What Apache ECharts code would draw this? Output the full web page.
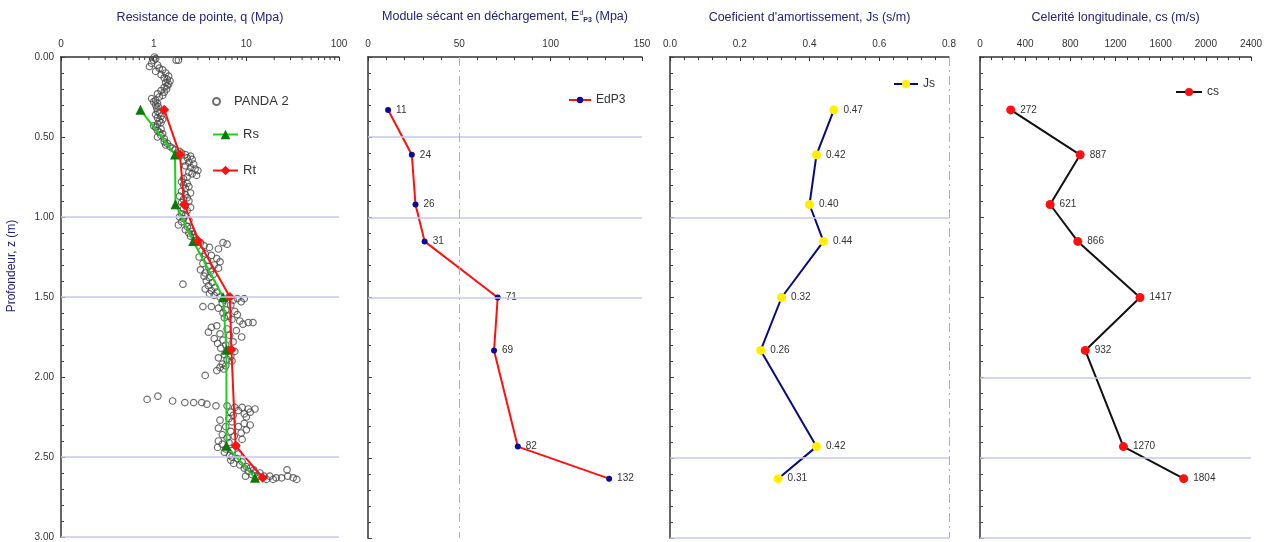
<!DOCTYPE html>
<html>
<head>
<meta charset="utf-8">
<script src="https://cdn.jsdelivr.net/npm/echarts@6/dist/echarts.min.js"></script>
<style>html,body{margin:0;padding:0;background:#fff}#c{width:1272px;height:542px}</style>
</head>
<body>
<div id="c"></div>
<script>
// ---- data ----
const depths = [0.33, 0.61, 0.92, 1.15, 1.50, 1.83, 2.43, 2.63];
const rsValues = [0.72, 1.70, 1.72, 2.67, 5.6, 6.1, 6.1, 12.4];
const rtValues = [1.30, 1.92, 2.14, 3.03, 6.65, 6.9, 7.66, 15.0];
const edp3Values = [11, 24, 26, 31, 71, 69, 82, 132];
const jsValues = [0.47, 0.42, 0.40, 0.44, 0.32, 0.26, 0.42, 0.31];
const csValues = [272, 887, 621, 866, 1417, 932, 1270, 1804];
const pandaQ = [
 1.02,1.05,1.75,1.85,1.0,
 0.95,1.1,0.9,1.15,1.25,1.05,1.35,1.2,1.45,1.3,1.4,1.5,1.35,1.45,1.4,1.3,1.38,
 1.2,1.3,1.1,1.25,1.15,0.95,1.05,1.0,1.1,1.05,1.12,1.08,
 1.1,1.15,1.05,1.2,1.1,1.25,1.15,1.2,1.1,1.0,1.05,1.2,1.1,1.15,1.25,1.2,1.1,1.3,
 1.3,1.4,1.35,1.5,1.6,1.7,1.9,
 2.0,2.2,2.5,2.3,2.6,2.1,2.4,2.7,2.2,2.5,2.8,3.0,2.4,2.6,2.9,2.3,2.1,
 2.0,2.3,2.1,2.4,2.2,2.0,2.5,2.2,1.9,2.3,2.1,2.4,2.0,2.2,2.5,2.1,2.3,
 2.0,2.2,1.9,2.1,2.4,2.0,1.85,2.3,2.5,2.2,2.6,2.4,2.7,2.5,2.8,
 2.9,3.2,5.6,6.2,3.5,4.0,5.0,3.3,
 3.6,4.2,3.1,4.8,3.8,5.2,3.4,4.5,3.9,5.0,3.2,4.1,3.6,4.4,3.5,4.0,2.07,3.7,4.3,3.9,4.6,3.6,4.2,4.8,4.0,4.5,
 5.2,6.5,8.0,9.5,5.8,7.2,8.8,
 3.4,4.2,5.5,6.8,5.0,6.0,7.5,5.6,8.0,6.4,
 5.8,7.0,8.5,10.5,11.8,9.2,4.8,4.2,6.2,7.8,3.9,5.2,6.6,8.9,4.5,5.6,7.2,4.9,6.0,
 5.3,6.5,7.5,5.8,6.8,5.0,6.2,7.0,5.5,6.0,5.2,5.7,4.8,3.6,
 0.85,1.11,1.6,2.17,2.7,3.3,3.75,4.7,
 6.2,7.5,9.0,10.5,12.4,8.2,6.8,11.0,9.5,7.2,10.0,6.5,
 5.2,7.0,9.5,11.0,6.0,8.2,5.0,10.0,6.8,8.8,5.5,7.4,6.2,9.0,
 5.0,6.5,5.5,7.8,4.9,6.0,7.0,5.8,8.2,6.6,
 7.0,8.0,6.8,9.0,7.3,8.5,10.0,9.5,11.0,12.0,27.5,10.5,12.5,14.0,11.5,13.5,15.5,9.8,17.9,21.0,24.0,28.0,32.0,35.0,16.5,19.5
];
const pandaZ = [
 0.00,0.01,0.02,0.02,0.02,
 0.04,0.05,0.06,0.07,0.08,0.09,0.10,0.11,0.12,0.13,0.14,0.15,0.16,0.17,0.18,0.19,0.20,
 0.21,0.22,0.23,0.24,0.25,0.26,0.27,0.28,0.29,0.30,0.31,0.32,
 0.34,0.35,0.36,0.37,0.38,0.39,0.40,0.41,0.42,0.43,0.44,0.45,0.46,0.47,0.48,0.49,0.50,0.51,
 0.53,0.54,0.55,0.56,0.57,0.58,0.59,
 0.60,0.61,0.62,0.63,0.64,0.65,0.66,0.67,0.68,0.69,0.70,0.71,0.72,0.73,0.74,0.75,0.76,
 0.78,0.79,0.80,0.81,0.82,0.84,0.85,0.86,0.87,0.88,0.89,0.90,0.91,0.93,0.94,0.95,0.96,
 0.98,0.99,1.00,1.01,1.02,1.03,1.05,1.06,1.07,1.08,1.09,1.10,1.11,1.12,1.13,
 1.15,1.16,1.16,1.17,1.18,1.19,1.20,1.21,
 1.23,1.24,1.25,1.26,1.27,1.28,1.29,1.30,1.31,1.32,1.33,1.34,1.35,1.36,1.37,1.38,1.42,1.40,1.41,1.43,1.44,1.45,1.46,1.47,1.48,1.49,
 1.50,1.50,1.51,1.51,1.52,1.52,1.53,
 1.56,1.56,1.54,1.55,1.57,1.58,1.59,1.60,1.61,1.62,
 1.63,1.64,1.65,1.66,1.66,1.67,1.68,1.69,1.70,1.71,1.72,1.73,1.74,1.75,1.76,1.77,1.78,1.79,1.80,
 1.82,1.83,1.84,1.86,1.87,1.88,1.89,1.90,1.92,1.93,1.94,1.95,1.96,1.99,
 2.14,2.12,2.15,2.16,2.16,2.16,2.17,2.18,
 2.18,2.19,2.19,2.20,2.20,2.21,2.22,2.22,2.23,2.24,2.25,2.26,
 2.27,2.28,2.29,2.30,2.31,2.31,2.32,2.33,2.34,2.35,2.36,2.37,2.38,2.39,
 2.40,2.41,2.42,2.43,2.44,2.45,2.46,2.47,2.48,2.49,
 2.50,2.51,2.52,2.53,2.54,2.55,2.56,2.57,2.57,2.58,2.58,2.59,2.60,2.60,2.61,2.62,2.62,2.62,2.62,2.63,2.63,2.62,2.63,2.64,2.64,2.64
];
const logMinorTicks = [0.2,0.3,0.4,0.5,0.6,0.7,0.8,0.9,2,3,4,5,6,7,8,9,20,30,40,50,60,70,80,90];
const grid1Lines = [1.0, 1.5, 2.5, 3.0];
const grid2Lines = [0.5, 1.0, 1.5];
const grid3Lines = [1.0, 2.5, 3.0];
const grid4Lines = [2.0, 2.5, 3.0];
const vLine2 = [50];
const vLine3 = [0.8];

// ---- chart ----
const FONT = 'Liberation Sans, Arial, sans-serif';
const NAVY = '#23237d';
const chart = echarts.init(document.getElementById('c'), null, {renderer: 'canvas'});

function pairs(xs, ys) { return xs.map((v, i) => [v, ys[i]]); }

const grids = [
  {left: 61, width: 278, top: 57, bottom: 4},
  {left: 368, width: 274, top: 57, bottom: 4},
  {left: 670, width: 279, top: 57, bottom: 4},
  {left: 980, width: 271, top: 57, bottom: 4}
];

function xAxisBase(i, extra) {
  return Object.assign({
    gridIndex: i, position: 'top', nameLocation: 'middle', nameGap: 33,
    nameTextStyle: {color: NAVY, fontSize: 12.5, fontFamily: FONT},
    axisLine: {show: true, onZero: false, lineStyle: {color: '#333', width: 1.5}},
    axisTick: {show: true, inside: true, length: 4, lineStyle: {color: '#333'}},
    minorTick: {show: true, length: 3, lineStyle: {color: '#333'}},
    axisLabel: {color: '#333', fontSize: 10, fontFamily: FONT, margin: 8},
    splitLine: {show: false}
  }, extra);
}
function yAxisBase(i, showLabel) {
  return {
    gridIndex: i, type: 'value', inverse: true, min: 0, max: 3, interval: 0.5,
    axisLine: {show: true, onZero: false, lineStyle: {color: '#666', width: 2}},
    axisTick: {show: true, inside: true, length: 4, lineStyle: {color: '#444'}},
    minorTick: {show: true, splitNumber: 5, length: 3, lineStyle: {color: '#444'}},
    axisLabel: {show: showLabel, color: '#333', fontSize: 10, fontFamily: FONT, margin: 7,
      formatter: v => v.toFixed(2)},
    splitLine: {show: false}
  };
}
function hLines(vals) {
  return {silent: true, symbol: ['none', 'none'], label: {show: false}, animation: false,
    lineStyle: {color: '#c6c6f2', type: 'solid', width: 1.5},
    data: vals.map(v => ({yAxis: v}))};
}
function vLineData(vals) {
  return vals.map(v => ({xAxis: v, lineStyle: {color: '#a8a8e6', type: [9, 4, 2, 4], width: 1}}));
}
const lblStyle = {show: true, position: 'right', distance: 5, color: '#333', fontSize: 10, fontFamily: FONT};

const option = {
  animation: false,
  backgroundColor: '#fff',
  grid: grids,
  graphic: [{
    type: 'text', x: 12, y: 266, rotation: Math.PI / 2,
    style: {text: 'Profondeur, z (m)', fill: NAVY, font: '12px ' + FONT, align: 'center', verticalAlign: 'middle'}
  }],
  legend: [
    {left: 207, top: 90, itemWidth: 25, itemHeight: 7, itemGap: 8,
      data: ['PANDA 2'], textStyle: {fontSize: 13, color: '#333', fontFamily: FONT}},
    {left: 207, top: 123, orient: 'vertical', itemGap: 23, itemWidth: 25, itemHeight: 12,
      data: ['Rs', 'Rt'], textStyle: {fontSize: 13, color: '#333', fontFamily: FONT}},
    {left: 563, top: 89, itemWidth: 22, itemHeight: 8, data: ['EdP3'], textStyle: {fontSize: 12, color: '#333', fontFamily: FONT}},
    {left: 888, top: 73, itemWidth: 24, itemHeight: 10, data: ['Js'], textStyle: {fontSize: 12, color: '#333', fontFamily: FONT}},
    {left: 1170, top: 81, itemWidth: 26, itemHeight: 10, data: ['cs'], textStyle: {fontSize: 12, color: '#333', fontFamily: FONT}}
  ],
  xAxis: [
    xAxisBase(0, {type: 'log', logBase: 10, min: 0.1, max: 100, name: 'Resistance de pointe, q (Mpa)',
      minorTick: {show: false},
      axisLabel: {color: '#333', fontSize: 10, fontFamily: FONT, margin: 8, formatter: v => v < 1 ? '0' : String(v)}}),
    xAxisBase(1, {type: 'value', min: 0, max: 150, interval: 50,
      name: 'Module sécant en déchargement, E{sup|d}{sub|P3} (Mpa)',
      nameTextStyle: {color: NAVY, fontSize: 12.5, fontFamily: FONT,
        rich: {sup: {fontSize: 7, color: NAVY, verticalAlign: 'top', padding: [0, 0, 7, 0]},
               sub: {fontSize: 7, color: NAVY, fontWeight: 'bold', padding: [6, 0, 0, 0]}}},
      minorTick: {show: true, splitNumber: 5, length: 3, lineStyle: {color: '#333'}}}),
    xAxisBase(2, {type: 'value', min: 0, max: 0.8, interval: 0.2, name: "Coeficient d'amortissement, Js (s/m)",
      minorTick: {show: true, splitNumber: 5, length: 3, lineStyle: {color: '#333'}},
      axisLabel: {color: '#333', fontSize: 10, fontFamily: FONT, margin: 8, formatter: v => v.toFixed(1)}}),
    xAxisBase(3, {type: 'value', min: 0, max: 2400, interval: 400, name: 'Celerité longitudinale, cs (m/s)',
      minorTick: {show: true, splitNumber: 4, length: 3, lineStyle: {color: '#333'}},
      axisLabel: {color: '#333', fontSize: 10, fontFamily: FONT, margin: 8, formatter: v => String(v)}})
  ],
  yAxis: [yAxisBase(0, true), yAxisBase(1, false), yAxisBase(2, false), yAxisBase(3, false)],
  series: [
    {name: 'PANDA 2', type: 'scatter', xAxisIndex: 0, yAxisIndex: 0, symbol: 'circle', symbolSize: 6.5,
      itemStyle: {color: 'rgba(255,255,255,0)', borderColor: '#4a4a4a', borderWidth: 1.2},
      data: pairs(pandaQ, pandaZ), markLine: hLines(grid1Lines), z: 2},
    {name: 'Rs', type: 'line', xAxisIndex: 0, yAxisIndex: 0, symbol: 'triangle', symbolSize: 10,
      lineStyle: {color: '#19d219', width: 2}, itemStyle: {color: '#0a7a0a'},
      data: pairs(rsValues, depths), z: 3},
    {name: 'Rt', type: 'line', xAxisIndex: 0, yAxisIndex: 0, symbol: 'diamond', symbolSize: 10,
      lineStyle: {color: '#ff1010', width: 2}, itemStyle: {color: '#ff1010'},
      data: pairs(rtValues, depths), z: 4},
    {name: 'logMinor', type: 'custom', xAxisIndex: 0, yAxisIndex: 0, silent: true,
      data: logMinorTicks.map(v => [v, 0]),
      renderItem: (params, api) => {
        const p = api.coord([api.value(0), 0]);
        return {type: 'line', shape: {x1: p[0], y1: p[1], x2: p[0], y2: p[1] + 3},
          style: {stroke: '#333', lineWidth: 1}};
      }, clip: false, z: 5},
    {name: 'EdP3', type: 'line', xAxisIndex: 1, yAxisIndex: 1, symbol: 'circle', symbolSize: 6,
      lineStyle: {color: '#ff1010', width: 2}, itemStyle: {color: '#0a0a9a'},
      label: Object.assign({}, lblStyle, {formatter: p => String(p.value[0])}),
      data: pairs(edp3Values, depths),
      markLine: Object.assign(hLines(grid2Lines), {data: grid2Lines.map(v => ({yAxis: v})).concat(vLineData(vLine2))})},
    {name: 'Js', type: 'line', xAxisIndex: 2, yAxisIndex: 2, symbol: 'circle', symbolSize: 9,
      lineStyle: {color: '#0a0a80', width: 2}, itemStyle: {color: '#ffee00'},
      label: Object.assign({}, lblStyle, {formatter: p => p.value[0].toFixed(2)}),
      data: pairs(jsValues, depths),
      markLine: Object.assign(hLines(grid3Lines), {data: grid3Lines.map(v => ({yAxis: v})).concat(vLineData(vLine3))})},
    {name: 'cs', type: 'line', xAxisIndex: 3, yAxisIndex: 3, symbol: 'circle', symbolSize: 9,
      lineStyle: {color: '#111', width: 2}, itemStyle: {color: '#ff1010'},
      label: Object.assign({}, lblStyle, {formatter: p => String(p.value[0])}),
      data: pairs(csValues, depths), markLine: hLines(grid4Lines)}
  ]
};
chart.setOption(option);
</script>
</body>
</html>
